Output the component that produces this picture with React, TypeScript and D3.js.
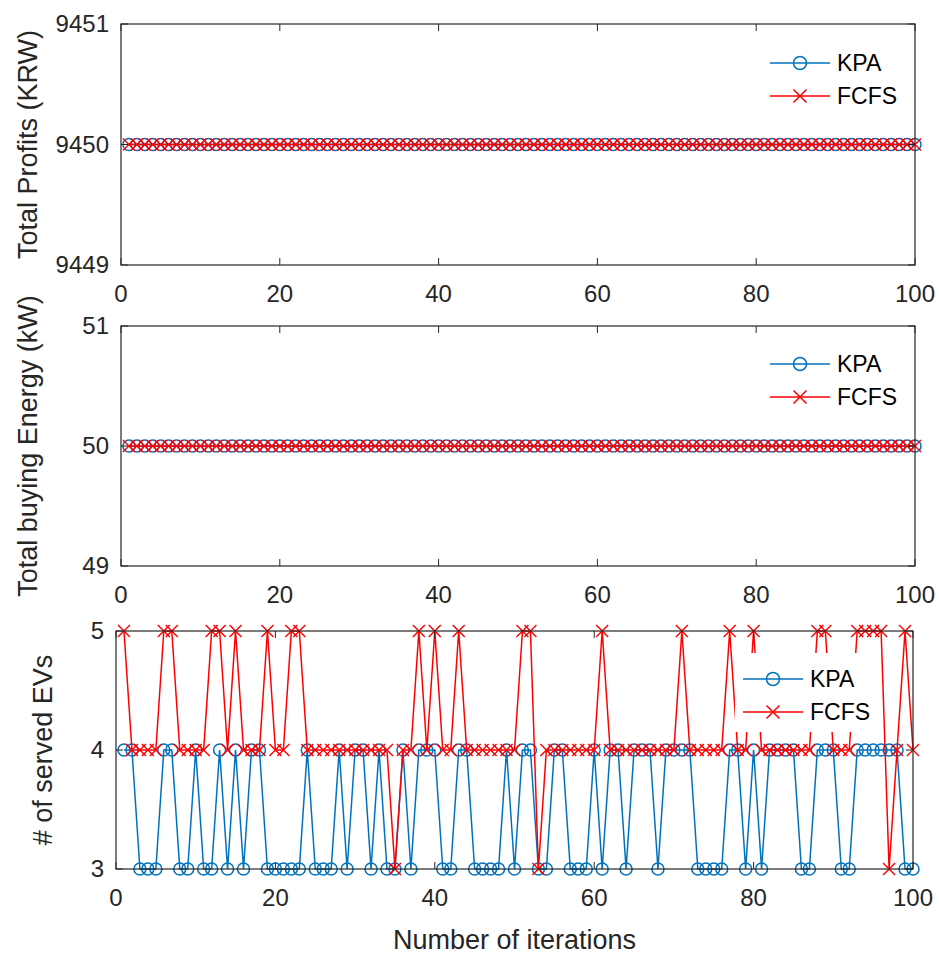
import React, { useEffect, useRef } from "react";
import * as d3 from "d3";

// iteration index runs 1..100 (x axis 0..100)
const xTicks = [0, 20, 40, 60, 80, 100];

// panel 1: total profits (KRW)
const profitTicks = [9449, 9450, 9451];
const profitKPA = [
  9450, 9450, 9450, 9450, 9450, 9450, 9450, 9450, 9450, 9450,
  9450, 9450, 9450, 9450, 9450, 9450, 9450, 9450, 9450, 9450,
  9450, 9450, 9450, 9450, 9450, 9450, 9450, 9450, 9450, 9450,
  9450, 9450, 9450, 9450, 9450, 9450, 9450, 9450, 9450, 9450,
  9450, 9450, 9450, 9450, 9450, 9450, 9450, 9450, 9450, 9450,
  9450, 9450, 9450, 9450, 9450, 9450, 9450, 9450, 9450, 9450,
  9450, 9450, 9450, 9450, 9450, 9450, 9450, 9450, 9450, 9450,
  9450, 9450, 9450, 9450, 9450, 9450, 9450, 9450, 9450, 9450,
  9450, 9450, 9450, 9450, 9450, 9450, 9450, 9450, 9450, 9450,
  9450, 9450, 9450, 9450, 9450, 9450, 9450, 9450, 9450, 9450,
];
const profitFCFS = [
  9450, 9450, 9450, 9450, 9450, 9450, 9450, 9450, 9450, 9450,
  9450, 9450, 9450, 9450, 9450, 9450, 9450, 9450, 9450, 9450,
  9450, 9450, 9450, 9450, 9450, 9450, 9450, 9450, 9450, 9450,
  9450, 9450, 9450, 9450, 9450, 9450, 9450, 9450, 9450, 9450,
  9450, 9450, 9450, 9450, 9450, 9450, 9450, 9450, 9450, 9450,
  9450, 9450, 9450, 9450, 9450, 9450, 9450, 9450, 9450, 9450,
  9450, 9450, 9450, 9450, 9450, 9450, 9450, 9450, 9450, 9450,
  9450, 9450, 9450, 9450, 9450, 9450, 9450, 9450, 9450, 9450,
  9450, 9450, 9450, 9450, 9450, 9450, 9450, 9450, 9450, 9450,
  9450, 9450, 9450, 9450, 9450, 9450, 9450, 9450, 9450, 9450,
];

// panel 2: total buying energy (kW)
const energyTicks = [49, 50, 51];
const energyKPA = [
  50, 50, 50, 50, 50, 50, 50, 50, 50, 50,
  50, 50, 50, 50, 50, 50, 50, 50, 50, 50,
  50, 50, 50, 50, 50, 50, 50, 50, 50, 50,
  50, 50, 50, 50, 50, 50, 50, 50, 50, 50,
  50, 50, 50, 50, 50, 50, 50, 50, 50, 50,
  50, 50, 50, 50, 50, 50, 50, 50, 50, 50,
  50, 50, 50, 50, 50, 50, 50, 50, 50, 50,
  50, 50, 50, 50, 50, 50, 50, 50, 50, 50,
  50, 50, 50, 50, 50, 50, 50, 50, 50, 50,
  50, 50, 50, 50, 50, 50, 50, 50, 50, 50,
];
const energyFCFS = [
  50, 50, 50, 50, 50, 50, 50, 50, 50, 50,
  50, 50, 50, 50, 50, 50, 50, 50, 50, 50,
  50, 50, 50, 50, 50, 50, 50, 50, 50, 50,
  50, 50, 50, 50, 50, 50, 50, 50, 50, 50,
  50, 50, 50, 50, 50, 50, 50, 50, 50, 50,
  50, 50, 50, 50, 50, 50, 50, 50, 50, 50,
  50, 50, 50, 50, 50, 50, 50, 50, 50, 50,
  50, 50, 50, 50, 50, 50, 50, 50, 50, 50,
  50, 50, 50, 50, 50, 50, 50, 50, 50, 50,
  50, 50, 50, 50, 50, 50, 50, 50, 50, 50,
];

// panel 3: number of served EVs
const servedTicks = [3, 4, 5];
const servedKPA = [
  4, 4, 3, 3, 3, 4, 4, 3, 3, 4,
  3, 3, 4, 3, 4, 3, 4, 4, 3, 3,
  3, 3, 3, 4, 3, 3, 3, 4, 3, 4,
  4, 3, 4, 3, 3, 4, 3, 4, 4, 4,
  3, 3, 4, 4, 3, 3, 3, 3, 4, 3,
  4, 4, 3, 3, 4, 4, 3, 3, 3, 4,
  3, 4, 4, 3, 4, 4, 4, 3, 4, 4,
  4, 4, 3, 3, 3, 3, 4, 4, 3, 4,
  3, 4, 4, 4, 4, 3, 3, 4, 4, 4,
  3, 3, 4, 4, 4, 4, 4, 4, 3, 3,
];
const servedFCFS = [
  5, 4, 4, 4, 4, 5, 5, 4, 4, 4,
  4, 5, 5, 4, 5, 4, 4, 4, 5, 4,
  4, 5, 5, 4, 4, 4, 4, 4, 4, 4,
  4, 4, 4, 4, 3, 4, 4, 5, 4, 5,
  4, 4, 5, 4, 4, 4, 4, 4, 4, 4,
  5, 5, 3, 4, 4, 4, 4, 4, 4, 4,
  5, 4, 4, 4, 4, 4, 4, 4, 4, 4,
  5, 4, 4, 4, 4, 4, 5, 4, 4, 5,
  4, 4, 4, 4, 4, 4, 4, 5, 5, 4,
  4, 4, 5, 5, 5, 5, 3, 4, 5, 4,
];

const seriesNames = ["KPA", "FCFS"];

const W = 939;
const H = 956;
const BLUE = "#0072BD";
const RED = "#FF0000";
const AXIS = "#262626";
const FONT = "'Liberation Sans', Arial, Helvetica, sans-serif";

const App = () => {
  const ref = useRef<SVGSVGElement>(null);

  useEffect(() => {
    const svg = d3.select(ref.current);
    svg.selectAll("*").remove();

    const panels = [
      {
        left: 121, right: 915, top: 24, bottom: 265,
        ticks: profitTicks, kpa: profitKPA, fcfs: profitFCFS,
        ylabel: "Total Profits (KRW)", ylabelX: 28,
        legend: { lineX: 770, textX: 837, y: 63, box: null },
      },
      {
        left: 121, right: 915, top: 326, bottom: 566,
        ticks: energyTicks, kpa: energyKPA, fcfs: energyFCFS,
        ylabel: "Total buying Energy (kW)", ylabelX: 28,
        legend: { lineX: 770, textX: 837, y: 364, box: null },
      },
      {
        left: 116, right: 913, top: 631, bottom: 869,
        ticks: servedTicks, kpa: servedKPA, fcfs: servedFCFS,
        ylabel: "# of served EVs", ylabelX: 43,
        legend: { lineX: 743, textX: 810, y: 679, box: [735, 653, 878, 732] },
      },
    ];

    panels.forEach((p) => {
      const x = d3.scaleLinear().domain([0, 100]).range([p.left, p.right]);
      const y = d3.scaleLinear()
        .domain([p.ticks[0], p.ticks[p.ticks.length - 1]])
        .range([p.bottom, p.top]);

      const g = svg.append("g");

      // series
      const line = d3.line<number>()
        .x((d, i) => x(i + 1))
        .y((d) => y(d));

      g.append("path")
        .datum(p.kpa)
        .attr("d", line)
        .attr("fill", "none")
        .attr("stroke", BLUE)
        .attr("stroke-width", 1.5);
      g.selectAll(".kpa")
        .data(p.kpa)
        .enter()
        .append("circle")
        .attr("cx", (d, i) => x(i + 1))
        .attr("cy", (d) => y(d))
        .attr("r", 6)
        .attr("fill", "none")
        .attr("stroke", BLUE)
        .attr("stroke-width", 1.5);

      g.append("path")
        .datum(p.fcfs)
        .attr("d", line)
        .attr("fill", "none")
        .attr("stroke", RED)
        .attr("stroke-width", 1.5);
      g.selectAll(".fcfs")
        .data(p.fcfs)
        .enter()
        .append("path")
        .attr("d", (d, i) => {
          const cx = x(i + 1), cy = y(d), s = 6;
          return `M${cx - s},${cy - s}L${cx + s},${cy + s}M${cx - s},${cy + s}L${cx + s},${cy - s}`;
        })
        .attr("stroke", RED)
        .attr("stroke-width", 1.4);

      // box + inward ticks on all sides
      g.append("rect")
        .attr("x", p.left)
        .attr("y", p.top)
        .attr("width", p.right - p.left)
        .attr("height", p.bottom - p.top)
        .attr("fill", "none")
        .attr("stroke", AXIS)
        .attr("stroke-width", 1.2);

      const tl = 7;
      xTicks.forEach((t) => {
        g.append("line").attr("x1", x(t)).attr("x2", x(t))
          .attr("y1", p.bottom).attr("y2", p.bottom - tl)
          .attr("stroke", AXIS);
        g.append("line").attr("x1", x(t)).attr("x2", x(t))
          .attr("y1", p.top).attr("y2", p.top + tl)
          .attr("stroke", AXIS);
        g.append("text")
          .attr("x", x(t))
          .attr("y", p.bottom + 37)
          .attr("text-anchor", "middle")
          .attr("font-family", FONT)
          .attr("font-size", 24)
          .attr("fill", AXIS)
          .text(t);
      });
      p.ticks.forEach((t) => {
        g.append("line").attr("x1", p.left).attr("x2", p.left + tl)
          .attr("y1", y(t)).attr("y2", y(t))
          .attr("stroke", AXIS);
        g.append("line").attr("x1", p.right).attr("x2", p.right - tl)
          .attr("y1", y(t)).attr("y2", y(t))
          .attr("stroke", AXIS);
        g.append("text")
          .attr("x", p.left - 12)
          .attr("y", y(t))
          .attr("dy", "0.35em")
          .attr("text-anchor", "end")
          .attr("font-family", FONT)
          .attr("font-size", 24)
          .attr("fill", AXIS)
          .text(t);
      });

      // y label
      g.append("text")
        .attr("transform", `translate(${p.ylabelX},${(p.top + p.bottom) / 2}) rotate(-90)`)
        .attr("dy", "0.35em")
        .attr("text-anchor", "middle")
        .attr("font-family", FONT)
        .attr("font-size", 27)
        .attr("fill", AXIS)
        .text(p.ylabel);

      // legend
      const lg = p.legend;
      if (lg.box) {
        g.append("rect")
          .attr("x", lg.box[0])
          .attr("y", lg.box[1])
          .attr("width", lg.box[2] - lg.box[0])
          .attr("height", lg.box[3] - lg.box[1])
          .attr("fill", "white");
      }
      seriesNames.forEach((name, k) => {
        const ly = lg.y + k * 33;
        const color = k === 0 ? BLUE : RED;
        const mx = lg.lineX + 30;
        g.append("line")
          .attr("x1", lg.lineX).attr("x2", lg.lineX + 60)
          .attr("y1", ly).attr("y2", ly)
          .attr("stroke", color)
          .attr("stroke-width", 1.5);
        if (k === 0) {
          g.append("circle")
            .attr("cx", mx).attr("cy", ly).attr("r", 6.5)
            .attr("fill", "none").attr("stroke", color).attr("stroke-width", 1.5);
        } else {
          const s = 6.5;
          g.append("path")
            .attr("d", `M${mx - s},${ly - s}L${mx + s},${ly + s}M${mx - s},${ly + s}L${mx + s},${ly - s}`)
            .attr("stroke", color)
            .attr("stroke-width", 1.5);
        }
        g.append("text")
          .attr("x", lg.textX)
          .attr("y", ly)
          .attr("dy", "0.35em")
          .attr("font-family", FONT)
          .attr("font-size", 23)
          .attr("fill", "#000")
          .text(name);
      });
    });

    // x label on the bottom panel
    svg.append("text")
      .attr("x", (116 + 913) / 2)
      .attr("y", 949)
      .attr("text-anchor", "middle")
      .attr("font-family", FONT)
      .attr("font-size", 27)
      .attr("fill", AXIS)
      .text("Number of iterations");
  });

  return (
    <svg
      ref={ref}
      width={W}
      height={H}
      style={{ position: "absolute", left: 0, top: 0, background: "white" }}
    />
  );
};

export default App;
